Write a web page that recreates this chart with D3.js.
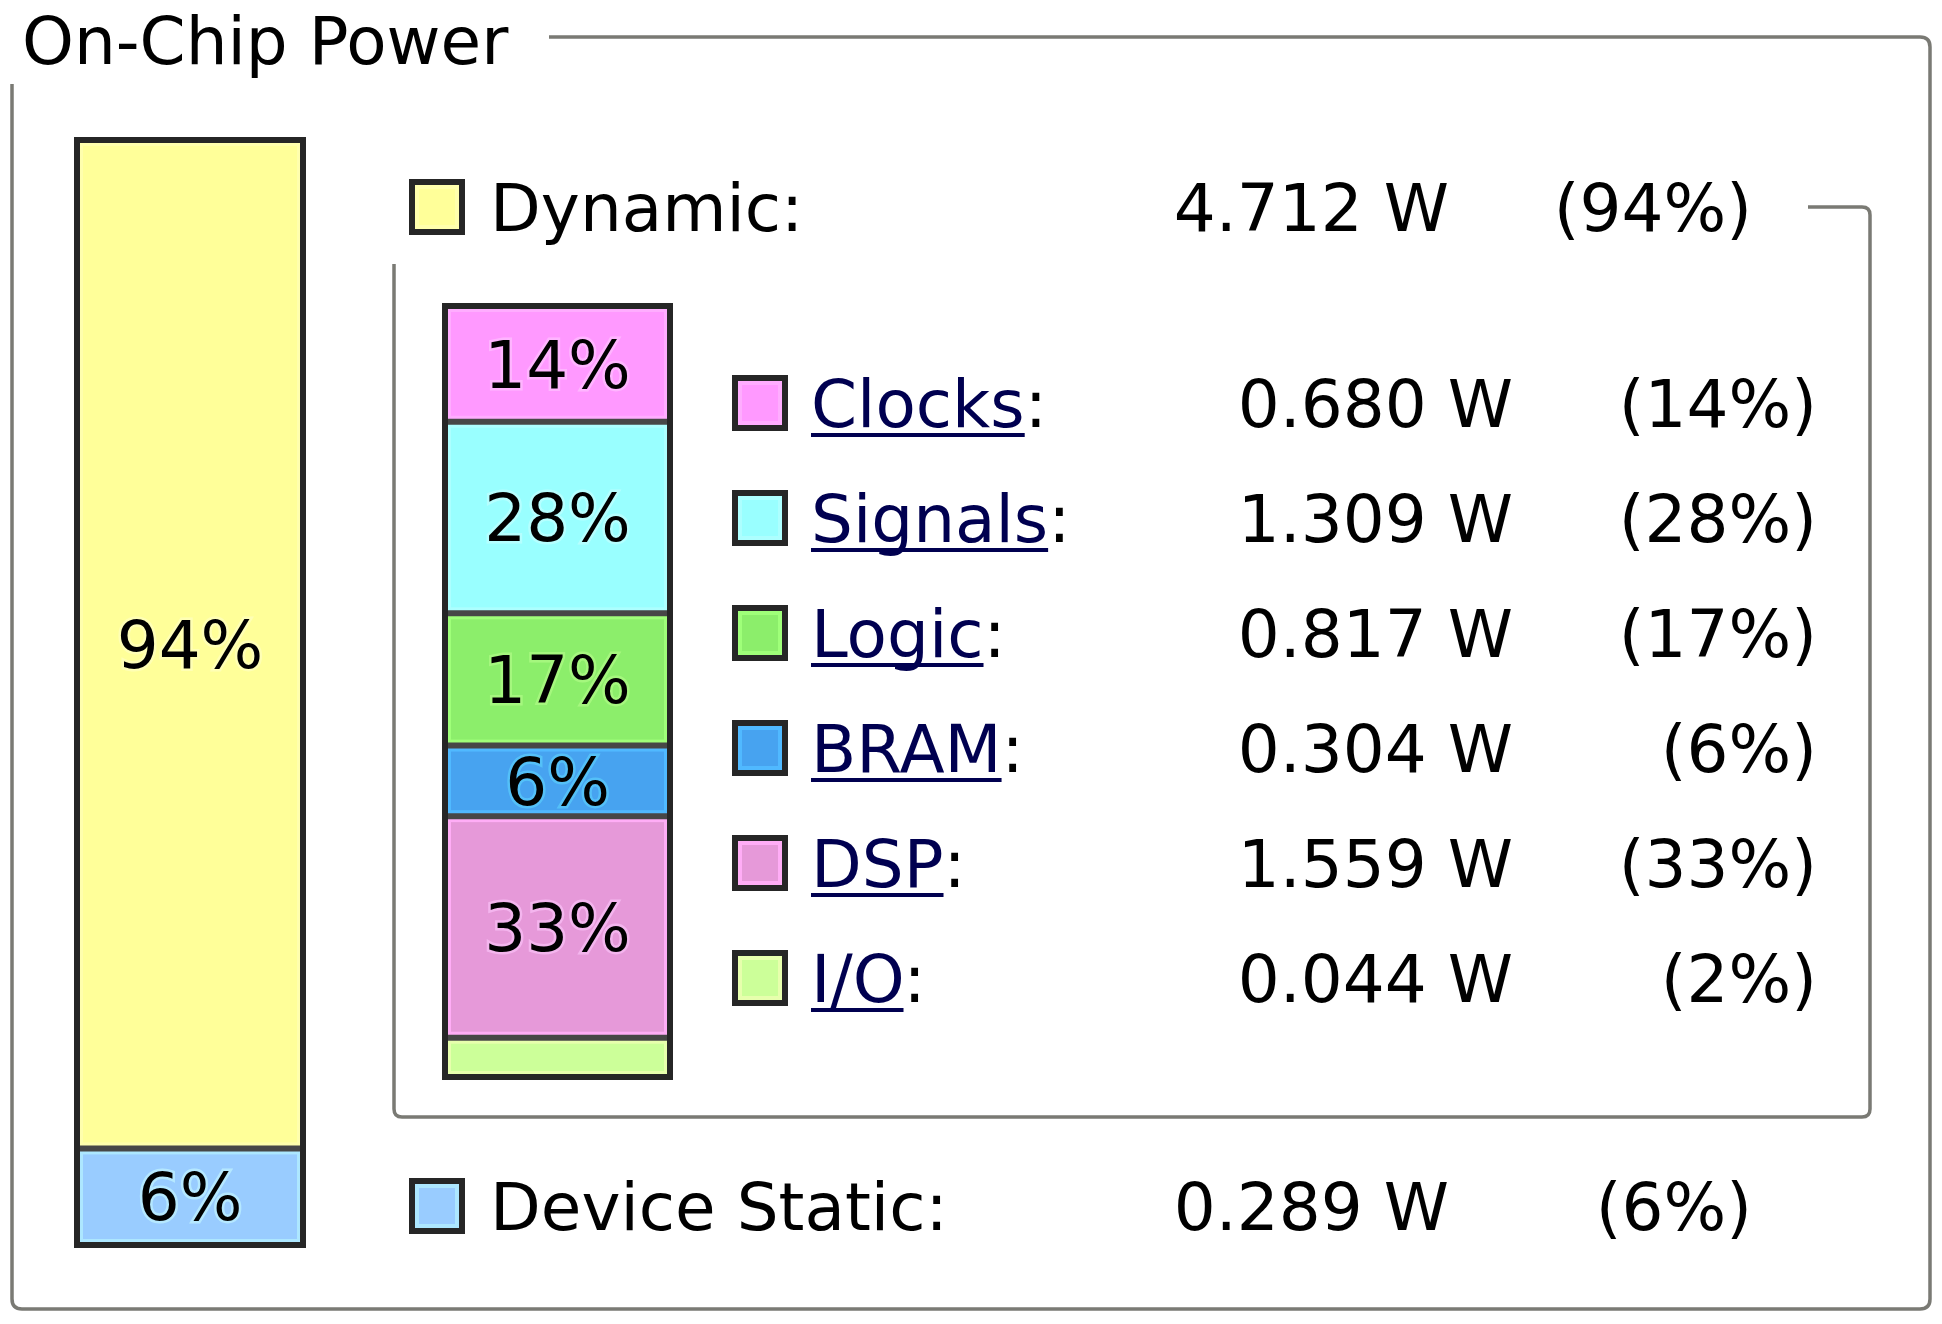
<!DOCTYPE html>
<html>
<head>
<meta charset="utf-8">
<script src="https://cdn.jsdelivr.net/npm/d3@7"></script>
<style>
  body { margin: 0; background: #fff; }
  text { font-family: "DejaVu Sans", Verdana, sans-serif; }
</style>
</head>
<body>
<svg id="chart" width="1942" height="1324"></svg>
<script>
// === data === //
var title = "On-Chip Power"
var groupNames = ["Dynamic", "Device Static"]
var groupWatts = [4.712, 0.289]
var groupPcts = [94, 6]

var compNames = ["Clocks", "Signals", "Logic", "BRAM", "DSP", "I/O"]
var compWatts = [0.680, 1.309, 0.817, 0.304, 1.559, 0.044]
var compPcts = [14, 28, 17, 6, 33, 2]

// === styles === //
var groupColor = d3.scaleOrdinal().domain(groupNames).range(["#ffff99", "#99ccff"])
var compColor = d3.scaleOrdinal().domain(compNames)
  .range(["#ff99ff", "#99ffff", "#8cee6b", "#47a3f0", "#e699d9", "#ccff99"])

var fontsize = 66
var frameColor = "#7a7a74"
var edgeColor = "#262626"
var sepColor = "#474747"
var linkColor = "#000050"

var svg = d3.select("#chart")

// segments get a fixed pad each plus their share of the rest
function stackSegments(names, values, top, bottom, pad) {
  var total = d3.sum(values)
  var y = d3.scaleLinear().domain([0, total])
    .range([0, (bottom - top) - pad * values.length])
  var acc = top
  return names.map(function(n, i) {
    var h = pad + y(values[i])
    var s = {name: n, y0: acc, y1: acc + h}
    acc += h
    return s
  })
}

function drawBar(x0, x1, segs, pcts, color) {
  var g = svg.append("g")
  segs.forEach(function(s, i) {
    var c = color(s.name)
    g.append("rect")
      .attr("x", x0).attr("y", s.y0).attr("width", x1 - x0).attr("height", s.y1 - s.y0)
      .attr("fill", d3.rgb(c).brighter(0.35))
    g.append("rect")
      .attr("x", x0 + 6).attr("y", s.y0 + 6)
      .attr("width", x1 - x0 - 12).attr("height", Math.max(0, s.y1 - s.y0 - 12))
      .attr("fill", c)
    if (i > 0) {
      g.append("line")
        .attr("x1", x0).attr("x2", x1).attr("y1", s.y0).attr("y2", s.y0)
        .attr("stroke", sepColor).attr("stroke-width", 6)
    }
    if (pcts[i] >= 5) {
      g.append("text")
        .attr("x", (x0 + x1) / 2).attr("y", (s.y0 + s.y1) / 2)
        .attr("dy", "0.36em")
        .attr("text-anchor", "middle")
        .attr("font-size", fontsize)
        .attr("fill", "#000")
        .attr("stroke", d3.rgb(c).brighter(0.8)).attr("stroke-width", 5)
        .attr("stroke-opacity", 0.55).attr("paint-order", "stroke")
        .text(pcts[i] + "%")
    }
  })
  g.append("rect")
    .attr("x", x0).attr("y", segs[0].y0)
    .attr("width", x1 - x0).attr("height", segs[segs.length - 1].y1 - segs[0].y0)
    .attr("fill", "none").attr("stroke", edgeColor).attr("stroke-width", 6)
}

function swatch(x, cy, c) {
  var s = 50
  svg.append("rect").attr("x", x).attr("y", cy - s / 2).attr("width", s).attr("height", s)
    .attr("fill", d3.rgb(c).brighter(0.35)).attr("stroke", edgeColor).attr("stroke-width", 6)
  svg.append("rect").attr("x", x + 7).attr("y", cy - s / 2 + 7).attr("width", s - 14).attr("height", s - 14)
    .attr("fill", c)
}

function row(cy, name, watts, pct, c, cols, link) {
  swatch(cols.sw, cy, c)
  var base = cy + 24
  var t = svg.append("text").attr("x", cols.label).attr("y", base)
    .attr("font-size", fontsize)
  if (link) {
    var a = t.append("tspan").attr("fill", linkColor).text(name)
    t.append("tspan").attr("fill", "#000").text(":")
    var w = a.node().getComputedTextLength()
    svg.append("line")
      .attr("x1", cols.label).attr("x2", cols.label + w)
      .attr("y1", base + 8).attr("y2", base + 8)
      .attr("stroke", linkColor).attr("stroke-width", 4)
  } else {
    t.attr("fill", "#000").text(name + ":")
  }
  svg.append("text").attr("x", cols.value).attr("y", base)
    .attr("text-anchor", "end").attr("font-size", fontsize)
    .text(d3.format(".3f")(watts) + " W")
  svg.append("text").attr("x", cols.pct).attr("y", base)
    .attr("text-anchor", "end").attr("font-size", fontsize)
    .text("(" + pct + "%)")
}

// === frames === //
svg.append("path")
  .attr("d", "M549,37 L1920,37 Q1930,37 1930,47 L1930,1299 Q1930,1309 1920,1309 L22,1309 Q12,1309 12,1299 L12,84")
  .attr("fill", "none").attr("stroke", frameColor).attr("stroke-width", 3.5)

svg.append("text").attr("x", 22).attr("y", 64)
  .attr("font-size", fontsize).attr("fill", "#000").text(title)

svg.append("path")
  .attr("d", "M1808,207 L1862,207 Q1870,207 1870,215 L1870,1109 Q1870,1117 1862,1117 L402,1117 Q394,1117 394,1109 L394,264")
  .attr("fill", "none").attr("stroke", frameColor).attr("stroke-width", 3.5)

// === bars === //
var groupSegs = stackSegments(groupNames, groupWatts, 140, 1245, 37)
drawBar(77, 303, groupSegs, groupPcts, groupColor)

var compSegs = stackSegments(compNames, compWatts, 306, 1077, 34)
drawBar(445, 670, compSegs, compPcts, compColor)

// === legend rows === //
var groupCols = {sw: 412, label: 490, value: 1449, pct: 1752}
var groupRowY = d3.scalePoint().domain(groupNames).range([207, 1206])
groupNames.forEach(function(n, i) {
  row(groupRowY(n), n, groupWatts[i], groupPcts[i], groupColor(n), groupCols, false)
})

var compCols = {sw: 735, label: 811, value: 1513, pct: 1817}
var compRowY = d3.scalePoint().domain(compNames).range([403, 978])
compNames.forEach(function(n, i) {
  row(compRowY(n), n, compWatts[i], compPcts[i], compColor(n), compCols, true)
})
</script>
</body>
</html>
